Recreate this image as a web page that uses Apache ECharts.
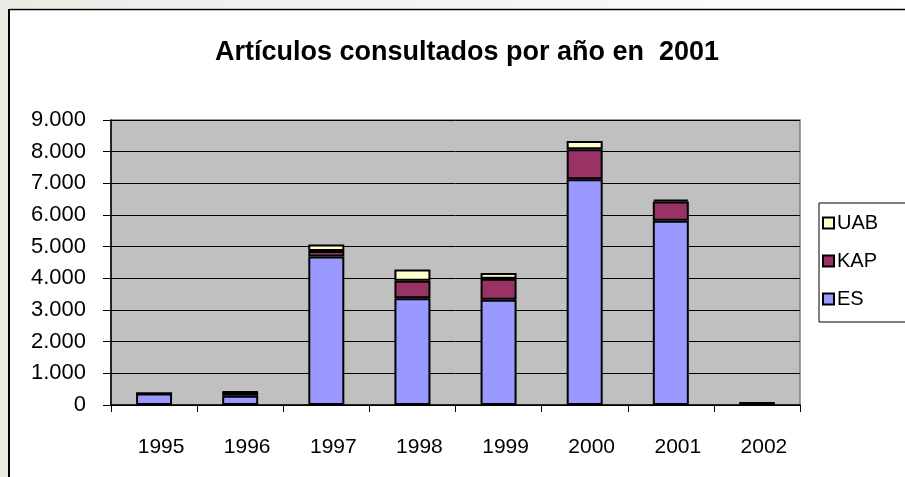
<!DOCTYPE html>
<html>
<head>
<meta charset="utf-8">
<script src="https://cdn.jsdelivr.net/npm/echarts@6/dist/echarts.min.js"></script>
<style>
  html, body { margin: 0; padding: 0; background: #fff; }
  #chart { width: 905px; height: 477px; }
</style>
</head>
<body>
<div id="chart"></div>
<script>
const years = ['1995', '1996', '1997', '1998', '1999', '2000', '2001', '2002'];
const esValues = [360, 290, 4690, 3370, 3320, 7130, 5820, 30];
const kapValues = [0, 110, 170, 550, 670, 950, 610, 20];
const uabValues = [0, 20, 210, 360, 180, 260, 60, 20];
const yTicks = [0, 1000, 2000, 3000, 4000, 5000, 6000, 7000, 8000, 9000];

const chart = echarts.init(document.getElementById('chart'));

// formato con punto de miles, como en el original
const fmt = v => String(v).replace(/\B(?=(\d{3})+(?!\d))/g, '.');

const barBase = {
  type: 'bar',
  stack: 'total',
  barWidth: 36,
  animation: false
};

chart.setOption({
  backgroundColor: '#fff',
  textStyle: { fontFamily: '"Liberation Sans", Arial, sans-serif' },
  graphic: [
    // franja gris y marco negro del borde de la hoja
    { type: 'rect', shape: { x: 0, y: 0, width: 8, height: 477 }, style: { fill: '#ECEAE5' }, silent: true },
    {
      type: 'rect', shape: { x: 0, y: 0, width: 905, height: 8 },
      style: { fill: new echarts.graphic.LinearGradient(0, 0, 1, 0, [
        { offset: 0, color: '#ECEAE5' }, { offset: 1, color: '#FFFFFF' }
      ]) },
      silent: true
    },
    { type: 'line', shape: { x1: 9, y1: 9, x2: 9, y2: 477 }, style: { stroke: '#000', lineWidth: 2 }, silent: true },
    { type: 'line', shape: { x1: 9, y1: 9.5, x2: 905, y2: 9.5 }, style: { stroke: '#000', lineWidth: 1.5 }, silent: true }
  ],
  title: {
    text: 'Artículos consultados por año en  2001',
    left: 462,
    textAlign: 'center',
    top: 34,
    textStyle: { fontSize: 27, fontWeight: 'bold', color: '#000' }
  },
  legend: {
    orient: 'vertical',
    left: 819,
    top: 203,
    data: ['UAB', 'KAP', 'ES'],
    icon: 'rect',
    itemWidth: 11,
    itemHeight: 11,
    itemGap: 18,
    padding: [10, 40, 13, 3],
    borderColor: '#000',
    borderWidth: 1,
    backgroundColor: '#fff',
    textStyle: { fontSize: 20, color: '#000', lineHeight: 20, padding: [0, 0, 0, -2] }
  },
  grid: {
    left: 111, right: 105, top: 120, bottom: 72,
    show: true,
    backgroundColor: '#C0C0C0',
    borderColor: '#808080',
    borderWidth: 1.5
  },
  xAxis: {
    type: 'category',
    data: years,
    axisLine: { lineStyle: { color: '#000', width: 1.5 } },
    axisTick: { show: true, length: 7, lineStyle: { color: '#000' } },
    axisLabel: { fontSize: 21, color: '#000', margin: 32, padding: [0, 0, 0, 14] }
  },
  yAxis: {
    type: 'value',
    min: yTicks[0],
    max: yTicks[yTicks.length - 1],
    interval: 1000,
    axisLine: { show: true, lineStyle: { color: '#000', width: 1.5 } },
    axisTick: { show: true, length: 8, lineStyle: { color: '#000' } },
    splitLine: { lineStyle: { color: '#000', width: 1 } },
    axisLabel: { fontSize: 22, color: '#000', margin: 25, formatter: fmt }
  },
  series: [
    { ...barBase, name: 'ES', data: esValues, itemStyle: { color: '#9999FF', borderColor: '#000', borderWidth: 2 } },
    { ...barBase, name: 'KAP', data: kapValues, itemStyle: { color: '#993366', borderColor: '#000', borderWidth: 2 } },
    { ...barBase, name: 'UAB', data: uabValues, itemStyle: { color: '#FFFFCC', borderColor: '#000', borderWidth: 2 } }
  ]
});
</script>
</body>
</html>
